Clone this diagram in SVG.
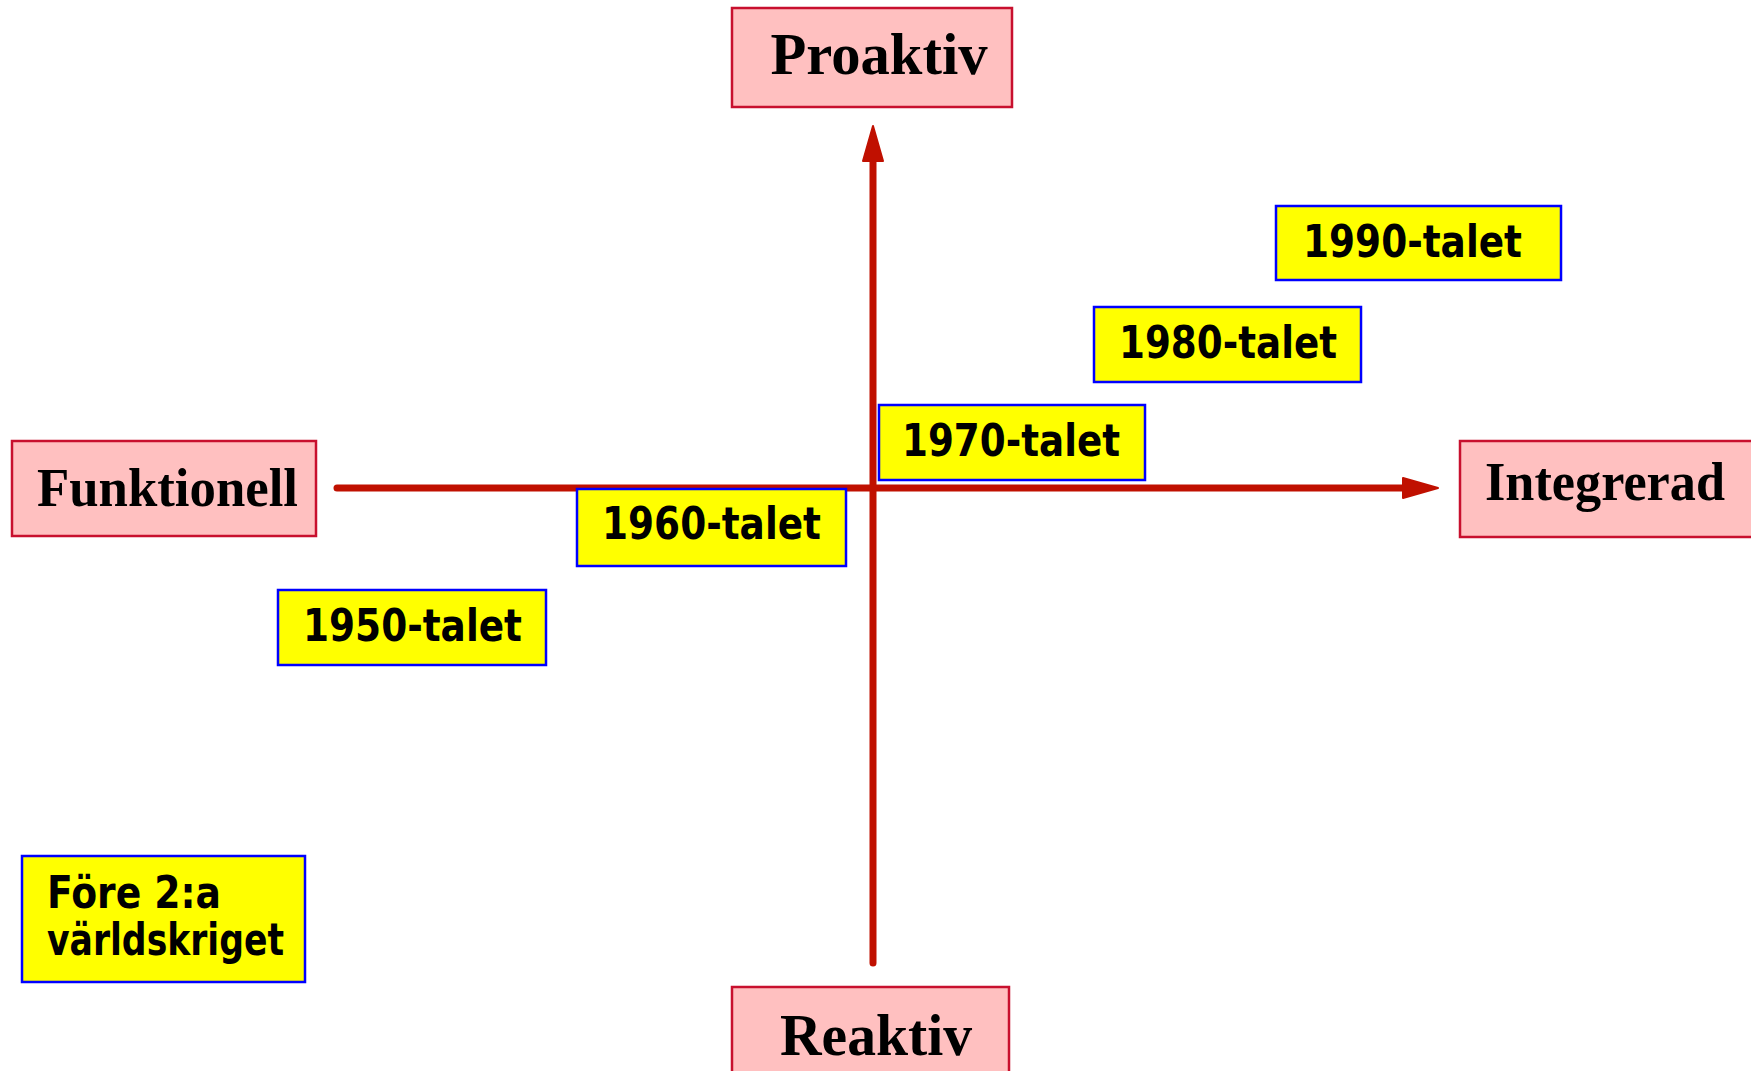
<svg xmlns="http://www.w3.org/2000/svg" width="1751" height="1071" viewBox="0 0 1751 1071">
<style>
.pink{fill:#FFC0C0;stroke:#C8102E;stroke-width:2.5}
.yel{fill:#FFFF00;stroke:#0000FF;stroke-width:2.5}
.lbl{font-family:"Liberation Serif","Times New Roman",serif;font-weight:bold;fill:#000}
.yr{font-family:"DejaVu Sans","Liberation Sans",sans-serif;font-weight:bold;font-size:44px;fill:#000}
.axis{stroke:#C01000;stroke-width:7;stroke-linecap:round;fill:none}
</style>
<defs>
<marker id="ah" markerUnits="userSpaceOnUse" orient="auto" refX="0" refY="0" markerWidth="60" markerHeight="40" overflow="visible">
<path d="M-9,-10 L26,0 L-9,10 Z" fill="#C01000" stroke="#C01000" stroke-width="2" stroke-linejoin="round"/>
</marker>
</defs>
<rect width="1751" height="1071" fill="#fff"/>
<g id="proaktiv"><rect class="pink" x="732" y="8" width="280" height="99"/><text class="lbl" x="879" y="74" font-size="60" text-anchor="middle" textLength="217" lengthAdjust="spacingAndGlyphs">Proaktiv</text></g>
<g id="funktionell"><rect class="pink" x="12" y="441" width="304" height="95"/><text class="lbl" x="37" y="506" font-size="54" textLength="261" lengthAdjust="spacingAndGlyphs">Funktionell</text></g>
<g id="integrerad"><rect class="pink" x="1460" y="441" width="300" height="96"/><text class="lbl" x="1485" y="500" font-size="54" textLength="240" lengthAdjust="spacingAndGlyphs">Integrerad</text></g>
<g id="reaktiv"><rect class="pink" x="732" y="987" width="277" height="100"/><text class="lbl" x="780" y="1055" font-size="60" textLength="192" lengthAdjust="spacingAndGlyphs">Reaktiv</text></g>
<g id="connectors">
<line class="axis" x1="873" y1="963" x2="873" y2="152" marker-end="url(#ah)"/>
<line class="axis" x1="337" y1="488" x2="1412" y2="488" marker-end="url(#ah)"/>
</g>
<g id="y1990"><rect class="yel" x="1276" y="206" width="285" height="74"/><text class="yr" x="1303" y="257" textLength="219" lengthAdjust="spacingAndGlyphs">1990-talet</text></g>
<g id="y1980"><rect class="yel" x="1094" y="307" width="267" height="75"/><text class="yr" x="1119" y="358" textLength="218" lengthAdjust="spacingAndGlyphs">1980-talet</text></g>
<g id="y1970"><rect class="yel" x="879" y="405" width="266" height="75"/><text class="yr" x="902" y="456" textLength="218" lengthAdjust="spacingAndGlyphs">1970-talet</text></g>
<g id="y1960"><rect class="yel" x="577" y="489" width="269" height="77"/><text class="yr" x="602" y="539" textLength="219" lengthAdjust="spacingAndGlyphs">1960-talet</text></g>
<g id="y1950"><rect class="yel" x="278" y="590" width="268" height="75"/><text class="yr" x="303" y="641" textLength="219" lengthAdjust="spacingAndGlyphs">1950-talet</text></g>
<g id="fore"><rect class="yel" x="22" y="856" width="283" height="126"/><text class="yr" x="47" y="908" font-size="40" textLength="174" lengthAdjust="spacingAndGlyphs">Före 2:a</text><text class="yr" x="47" y="955" font-size="40" textLength="237" lengthAdjust="spacingAndGlyphs">världskriget</text></g>
</svg>
